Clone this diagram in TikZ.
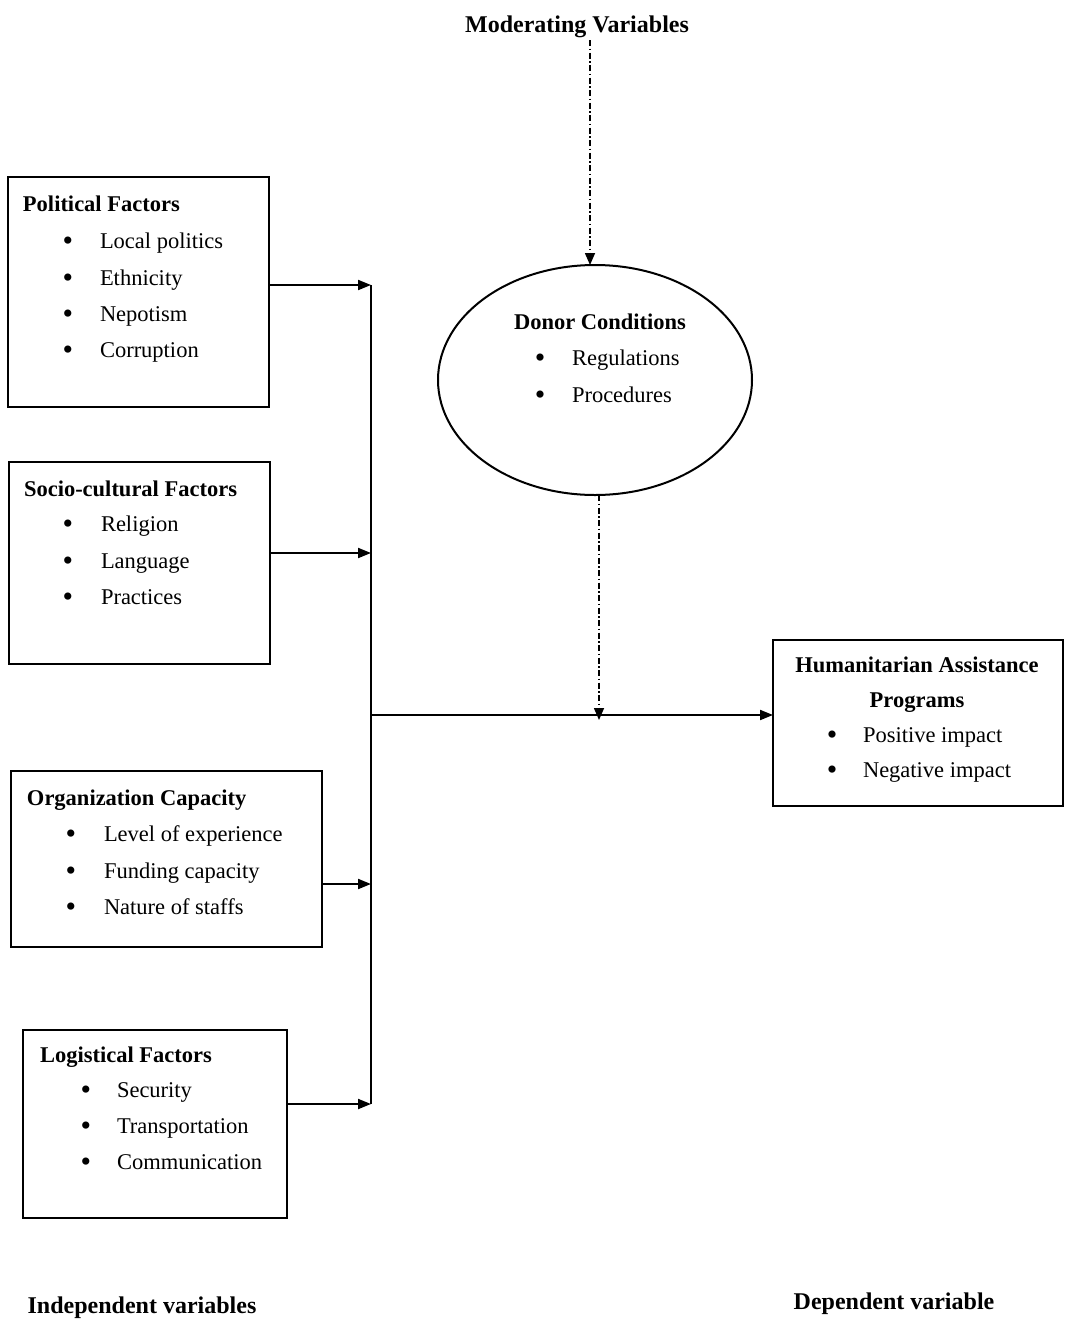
\documentclass[tikz,border=0pt]{standalone}
\usepackage{fontspec}
\setmainfont{Liberation Serif}
\usetikzlibrary{arrows.meta,shapes.geometric}
\begin{document}
\begin{tikzpicture}[x=1pt,y=-1pt,
  every node/.style={inner sep=0pt,outer sep=0pt,font=\fontsize{22.5}{27}\selectfont},
  box/.style={draw,line width=2pt,anchor=north west,minimum width=#1},
  txt/.style={anchor=base west},
  hd/.style={anchor=base west,font=\fontsize{22.5}{27}\selectfont\bfseries},
  lab/.style={anchor=base,font=\fontsize{24}{28}\selectfont\bfseries},
  bul/.style={anchor=base,font=\fontsize{30}{30}\selectfont},
  arr/.style={line width=2pt,-{Triangle[length=13pt,width=10pt]}},
  darr/.style={line width=1.5pt,dash pattern=on 6pt off 2.5pt on 1.5pt off 2.5pt,-{Triangle[length=12pt,width=10pt]}},
  line/.style={line width=2pt}]
\useasboundingbox (0,0) rectangle (1065,1323);
\fill[white] (0,0) rectangle (1065,1323);

% Boxes
\node (pol) [box=261, minimum height=230] at (8,177) {};
\node (soc) [box=261, minimum height=202] at (9,462) {};
\node (org) [box=311, minimum height=176] at (11,771) {};
\node (log) [box=264, minimum height=188] at (23,1030) {};
\node (hap) [box=290, minimum height=166] at (773,640) {};
\node (don) [draw,line width=2pt,ellipse,minimum width=314,minimum height=230] at (595,380) {};

% Political
\node (polh) [hd] at (23,211) {Political Factors};
\node (pb1) [bul] at (68,250) {•}; \node (pt1) [txt] at (100,248) {Local politics};
\node (pb2) [bul] at (68,287) {•}; \node (pt2) [txt] at (100,285) {Ethnicity};
\node (pb3) [bul] at (68,323) {•}; \node (pt3) [txt] at (100,321) {Nepotism};
\node (pb4) [bul] at (68,359) {•}; \node (pt4) [txt] at (100,357) {Corruption};

% Socio-cultural
\node (soch) [hd] at (24,496) {Socio-cultural Factors};
\node (sb1) [bul] at (68,533) {•}; \node (st1) [txt] at (101,531) {Religion};
\node (sb2) [bul] at (68,570) {•}; \node (st2) [txt] at (101,568) {Language};
\node (sb3) [bul] at (68,606) {•}; \node (st3) [txt] at (101,604) {Practices};

% Organization
\node (orgh) [hd] at (27,805) {Organization Capacity};
\node (ob1) [bul] at (71,843) {•}; \node (ot1) [txt] at (104,841) {Level of experience};
\node (ob2) [bul] at (71,880) {•}; \node (ot2) [txt] at (104,878) {Funding capacity};
\node (ob3) [bul] at (71,916) {•}; \node (ot3) [txt] at (104,914) {Nature of staffs};

% Logistical
\node (logh) [hd] at (40,1062) {Logistical Factors};
\node (lb1) [bul] at (86,1099) {•}; \node (lt1) [txt] at (117,1097) {Security};
\node (lb2) [bul] at (86,1135) {•}; \node (lt2) [txt] at (117,1133) {Transportation};
\node (lb3) [bul] at (86,1171) {•}; \node (lt3) [txt] at (117,1169) {Communication};

% Donor
\node (donh) [anchor=base,font=\fontsize{22.5}{27}\selectfont\bfseries] at (600,329) {Donor Conditions};
\node (db1) [bul] at (540,367) {•}; \node (dt1) [txt] at (572,365) {Regulations};
\node (db2) [bul] at (540,404) {•}; \node (dt2) [txt] at (572,402) {Procedures};

% HAP
\node (haph1) [anchor=base,font=\fontsize{22.5}{27}\selectfont\bfseries] at (917,672) {Humanitarian Assistance};
\node (haph2) [anchor=base,font=\fontsize{22.5}{27}\selectfont\bfseries] at (917,707) {Programs};
\node (hb1) [bul] at (832,744) {•}; \node (ht1) [txt] at (863,742) {Positive impact};
\node (hb2) [bul] at (832,779) {•}; \node (ht2) [txt] at (863,777) {Negative impact};

% Labels
\node (mod) [lab] at (577,32) {Moderating Variables};
\node (ind) [lab] at (142,1313) {Independent variables};
\node (dep) [lab] at (894,1309) {Dependent variable};

% Connectors
\coordinate (j0) at (371,285);
\coordinate (j1) at (371,553);
\coordinate (j2) at (371,884);
\coordinate (j3) at (371,1104);
\coordinate (jm) at (371,715);
\coordinate (mtop) at (590,40);
\coordinate (dmid) at (599,720);
\draw[line] (j0) -- (j3);
\draw[arr] (pol.east |- j0) -- (j0);
\draw[arr] (soc.east |- j1) -- (j1);
\draw[arr] (org.east |- j2) -- (j2);
\draw[arr] (log.east |- j3) -- (j3);
\draw[arr] (jm) -- (hap.west |- jm);
\draw[darr] (mtop) -- (mtop |- don.north);
\draw[darr] (dmid |- don.south) -- (dmid);
\end{tikzpicture}
\end{document}
